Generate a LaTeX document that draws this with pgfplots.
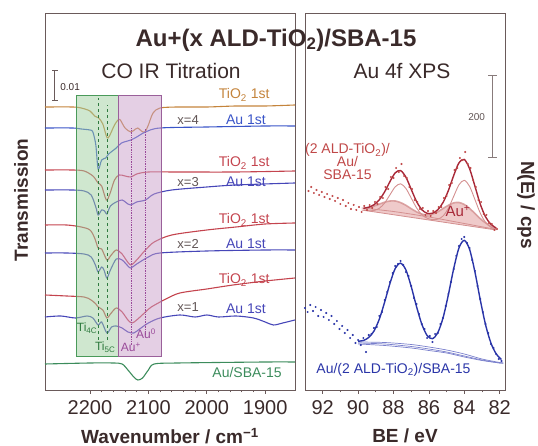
\documentclass[border=0pt]{standalone}
\usepackage{fontspec}
\setmainfont{Liberation Sans}
\usepackage{pgfplots}
\pgfplotsset{compat=1.18}

\definecolor{frame}{HTML}{6A5A5A}
\definecolor{ink}{HTML}{3A2A2A}
\definecolor{tiorange}{HTML}{C4843C}
\definecolor{tired}{HTML}{C4444E}
\definecolor{aublue}{HTML}{3A55C8}
\definecolor{aublueb}{HTML}{4646B8}
\definecolor{sbagreen}{HTML}{3C8C5C}
\definecolor{boxgreen}{HTML}{9FD09F}
\definecolor{boxgreenline}{HTML}{4A9A5A}
\definecolor{boxpurple}{HTML}{C9A0C9}
\definecolor{boxpurpleline}{HTML}{9A609A}
\definecolor{tilabel}{HTML}{2F7A3F}
\definecolor{aulabel}{HTML}{9A4A9A}
\definecolor{xpsred}{HTML}{C04848}
\definecolor{xpsfit}{HTML}{A82838}
\definecolor{xpscomp}{HTML}{D49090}
\definecolor{xpsband}{HTML}{E8B4B4}
\definecolor{xpsblue}{HTML}{2A35A8}
\definecolor{xpsbluebg}{HTML}{7A80CC}

\newcommand\fs[1]{\fontsize{#1}{#1}\selectfont}

\pgfplotsset{
  panel/.style={
    scale only axis, anchor=south west,
    height=377pt, ymin=0, ymax=377, ytick=\empty,
    x dir=reverse,
    axis line style={color=frame, line width=0.9pt},
    tick align=outside, xtick pos=bottom,
    major tick length=4pt, minor tick length=2.5pt,
    every tick/.style={color=frame, line width=0.7pt},
    /pgf/number format/assume math mode=true,
    /pgf/number format/1000 sep={},
    xticklabel style={font=\fs{20}, text=ink, yshift=-3pt},
    clip=false,
  },
}

\begin{document}
\begin{tikzpicture}[x=1pt,y=1pt]
\useasboundingbox (0,0) rectangle (538,446);

% ---------------- IR panel ----------------
\begin{axis}[panel, at={(45pt,56pt)}, width=250pt,
  xmin=1849, xmax=2277, xtick={1900,2000,2100,2200}, minor x tick num=4]

% x=4
\addplot[tiorange, line width=1.1pt, smooth] coordinates {
 (2277,283) (2230,283) (2215,282) (2200,279) (2192,274) (2185,272) (2178,266)
 (2172,254) (2169,252) (2165,256) (2158,265) (2152,270) (2148,270) (2140,262)
 (2130,258) (2122,261) (2118,262) (2112,259) (2106,258) (2100,265) (2092,277)
 (2080,282) (2050,283) (2000,283) (1950,284) (1900,284) (1849,285)};
\addplot[aublue, line width=1.1pt, smooth] coordinates {
 (2277,262) (2230,262) (2215,261) (2200,260) (2195,258) (2190,245) (2186,221)
 (2180,230) (2173,232) (2168,236) (2155,242) (2146,247) (2130,250) (2120,253)
 (2105,258) (2080,262) (2000,263) (1900,264) (1849,264)};
% x=3
\addplot[tired, line width=1.1pt, smooth] coordinates {
 (2277,220) (2230,220) (2210,219) (2195,214) (2186,207) (2180,204) (2172,190)
 (2166,196) (2158,210) (2150,215) (2140,214) (2130,213) (2120,216) (2100,218)
 (2050,218) (1950,218) (1849,219)};
\addplot[aublueb, line width=1.1pt, smooth] coordinates {
 (2277,200) (2230,200) (2210,199) (2198,195) (2190,183) (2186,175) (2180,180)
 (2175,179) (2171,176) (2165,184) (2155,188) (2145,190) (2135,186) (2130,185)
 (2120,188) (2105,190) (2090,196) (2060,200) (2000,203) (1950,205) (1849,207)};
% x=2
\addplot[tired, line width=1.1pt, smooth] coordinates {
 (2277,165) (2240,165) (2215,163) (2200,160) (2192,152) (2186,142) (2180,141)
 (2171,130) (2165,134) (2155,140) (2145,136) (2138,130) (2130,125) (2120,130)
 (2105,140) (2090,148) (2060,155) (2000,160) (1950,163) (1900,166) (1849,167)};
\addplot[aublueb, line width=1.1pt, smooth] coordinates {
 (2277,137) (2240,137) (2210,136) (2198,133) (2190,124) (2186,118) (2180,123)
 (2176,120) (2171,112) (2165,120) (2155,131) (2145,130) (2135,124) (2130,122)
 (2120,126) (2100,133) (2080,137) (2000,139) (1900,140) (1849,140)};
% x=1
\addplot[tired, line width=1.1pt, smooth] coordinates {
 (2277,95) (2240,94) (2210,93) (2198,90) (2190,86) (2186,83) (2178,80) (2171,72)
 (2165,76) (2155,82) (2145,78) (2135,70) (2128,67) (2120,70) (2105,78) (2095,83)
 (2070,91) (2046,97) (2000,101) (1955,105) (1900,109) (1849,112)};
\addplot[aublueb, line width=1.1pt, smooth] coordinates {
 (2277,73) (2250,74) (2225,72) (2205,74) (2195,72) (2186,65) (2180,68) (2171,57)
 (2163,63) (2155,64) (2145,62) (2135,58) (2125,57) (2115,61) (2100,67) (2080,72)
 (2046,75) (2020,73) (2000,75) (1980,73) (1950,74) (1920,72) (1900,68) (1886,65)
 (1870,67) (1849,70)};
% Au/SBA-15
\addplot[sbagreen, line width=1.1pt, smooth] coordinates {
 (2277,26) (2200,27) (2160,27) (2145,26) (2135,20) (2125,13) (2118,10) (2110,12)
 (2100,20) (2090,26) (2050,27) (1900,28) (1849,28)};

% shaded windows
\fill[boxgreen, opacity=0.5] (axis cs:2224,34) rectangle (axis cs:2152,295);
\draw[boxgreenline, line width=0.8pt] (axis cs:2224,34) rectangle (axis cs:2152,295);
\fill[boxpurple, opacity=0.5] (axis cs:2152,34) rectangle (axis cs:2078,295);
\draw[boxpurpleline, line width=0.8pt] (axis cs:2152,34) rectangle (axis cs:2078,295);
\draw[tilabel, dashed, line width=0.6pt] (axis cs:2186,50) -- (axis cs:2186,292);
\draw[tilabel, dashed, line width=0.6pt] (axis cs:2171,50) -- (axis cs:2171,285);
\draw[aulabel, densely dotted, line width=0.7pt] (axis cs:2130,45) -- (axis cs:2130,262);
\draw[aulabel, densely dotted, line width=0.7pt] (axis cs:2106,55) -- (axis cs:2106,262);

\node[tilabel, font=\fs{12}] at (axis cs:2205,62) {Ti\textsubscript{4C}};
\node[tilabel, font=\fs{12}] at (axis cs:2174,43) {Ti\textsubscript{5C}};
\node[aulabel, font=\fs{12}] at (axis cs:2130,43) {Au\textsuperscript{+}};
\node[aulabel, font=\fs{12}] at (axis cs:2104,56) {Au\textsuperscript{0}};

% scale bar
\draw[frame, line width=0.9pt] (axis cs:2260,290) -- (axis cs:2260,320)
  (axis cs:2265,290) -- (axis cs:2255,290) (axis cs:2265,320) -- (axis cs:2255,320);
\node[ink, font=\fs{10}] at (axis cs:2234,303) {0.01};

% curve labels
\node[tiorange, font=\fs{14}] at (axis cs:1936,295) {TiO\textsubscript{2} 1st};
\node[aublue, font=\fs{14}] at (axis cs:1933,270) {Au 1st};
\node[ink!80, font=\fs{13}] at (axis cs:2032,270) {x=4};
\node[tired, font=\fs{14}] at (axis cs:1936,227) {TiO\textsubscript{2} 1st};
\node[aublueb, font=\fs{14}] at (axis cs:1933,208) {Au 1st};
\node[ink!80, font=\fs{13}] at (axis cs:2032,208) {x=3};
\node[tired, font=\fs{14}] at (axis cs:1936,170) {TiO\textsubscript{2} 1st};
\node[aublueb, font=\fs{14}] at (axis cs:1933,146) {Au 1st};
\node[ink!80, font=\fs{13}] at (axis cs:2032,146) {x=2};
\node[tired, font=\fs{14}] at (axis cs:1936,110) {TiO\textsubscript{2} 1st};
\node[aublueb, font=\fs{14}] at (axis cs:1933,81) {Au 1st};
\node[ink!80, font=\fs{13}] at (axis cs:2032,83) {x=1};
\node[sbagreen, font=\fs{14}] at (axis cs:1931,17) {Au/SBA-15};
\end{axis}

% ---------------- XPS panel ----------------
\begin{axis}[panel, at={(305pt,56pt)}, width=200pt,
  xmin=81.7, xmax=93, xtick={82,84,...,92}, minor x tick num=1]

% red: Au+ band (between background and Au+ component)
\addplot[draw=none, fill=xpsband, fill opacity=0.7] coordinates {
 (89.7,181.6) (89.4,182.4) (89.1,183.9) (88.8,185.9) (88.5,187.8) (88.2,189.0)
 (87.9,189.0) (87.6,187.4) (87.3,184.7) (87.0,181.3) (86.7,178.2) (86.4,175.9)
 (86.1,175.2) (85.8,175.9) (85.5,178.1) (85.2,181.5) (84.9,184.7) (84.6,187.1)
 (84.3,187.5) (84.0,185.5) (83.7,181.5) (83.4,176.6) (83.1,171.4) (82.8,167.1)
 (82.5,163.8) (82.2,161.5) (82.2,160.0) (89.7,179.7)};
\addplot[xpscomp, line width=1.6pt, smooth, opacity=0.8] coordinates {
 (89.7,181.6) (89.4,182.4) (89.1,183.9) (88.8,185.9) (88.5,187.8) (88.2,189.0)
 (87.9,189.0) (87.6,187.4) (87.3,184.7) (87.0,181.3) (86.7,178.2) (86.4,175.9)
 (86.1,175.2) (85.8,175.9) (85.5,178.1) (85.2,181.5) (84.9,184.7) (84.6,187.1)
 (84.3,187.5) (84.0,185.5) (83.7,181.5) (83.4,176.6) (83.1,171.4) (82.8,167.1)
 (82.5,163.8) (82.2,161.5)};
% red backgrounds
\addplot[xpscomp, line width=0.8pt] coordinates {(89.8,180) (82.2,160)};
\addplot[xpscomp, line width=0.8pt, smooth] coordinates {
 (89.8,182) (88,178.5) (86,173) (84,166.5) (82.2,160.5)};
% red Au0 components
\addplot[xpscomp, line width=0.9pt, smooth] coordinates {
 (89.7,179.8) (89.4,179.3) (89.1,179.5) (88.8,181.7) (88.5,187.0) (88.2,195.2)
 (87.9,203.2) (87.6,206.2) (87.3,201.6) (87.0,192.0) (86.7,182.2) (86.4,175.3)
 (86.1,171.8) (85.8,170.4) (85.5,170.8) (85.2,174.0) (84.9,181.7) (84.6,193.6)
 (84.3,205.2) (84.0,209.7) (83.7,203.6) (83.4,190.5) (83.1,177.0) (82.8,167.7)
 (82.5,162.8) (82.2,160.5)};
% red data
\addplot[only marks, mark=*, mark size=0.8pt, xpsred] coordinates {
 (92.8,199) (92.65,203) (92.5,197) (92.35,200) (92.2,195) (92.05,198) (91.9,193)
 (91.75,196) (91.6,191) (91.45,194) (91.3,189) (91.15,192) (91.0,186) (90.85,190)
 (90.7,184) (90.55,187) (90.4,181) (90.25,185) (90.1,180) (89.95,183) (89.8,178)
 (89.65,184) (89.5,180) (89.35,185) (89.2,182) (89.05,188) (88.9,186) (88.75,193)
 (88.6,192) (88.45,203) (88.3,201) (88.15,213) (88.0,212) (87.85,222) (87.7,218)
 (87.55,226) (87.4,214) (87.25,212) (87.1,203) (86.95,201) (86.8,190) (86.65,188)
 (86.5,181) (86.35,182) (86.2,175) (86.05,179) (85.9,174) (85.75,179) (85.6,177)
 (85.45,183) (85.3,183) (85.15,192) (85.0,194) (84.85,205) (84.7,207) (84.55,220)
 (84.4,222) (84.25,232) (84.1,230) (83.95,238) (83.8,226) (83.65,222) (83.5,210)
 (83.35,203) (83.2,190) (83.05,188) (82.9,176) (82.75,175) (82.6,167) (82.45,166)
 (82.3,160) (82.15,161)};
% red fit
\addplot[xpsfit, line width=1.4pt, smooth] coordinates {
 (89.7,181.7) (89.4,182.8) (89.1,185.3) (88.8,190.2) (88.5,198.2) (88.2,208.4)
 (87.9,217.2) (87.6,219.4) (87.3,212.9) (87.0,200.7) (86.7,188.6) (86.4,180.3)
 (86.1,176.7) (85.8,176.8) (85.5,180.2) (85.2,187.5) (84.9,199.4) (84.6,214.4)
 (84.3,227.2) (84.0,230.5) (83.7,221.2) (83.4,203.9) (83.1,186.0) (82.8,173.2)
 (82.5,165.8) (82.2,162.0)};

% blue backgrounds
\addplot[xpsbluebg, line width=0.7pt, smooth] coordinates {
 (90,48) (88.5,47.5) (87,45.5) (86,43) (85,40) (84,36) (83,31) (82,27.5) (81.8,27)};
\addplot[xpsbluebg, line width=0.7pt, smooth] coordinates {
 (90,47) (88.5,46) (87,43.5) (86,41) (85,38) (84,34) (83,30) (82,27) (81.8,27)};
\addplot[xpsbluebg, line width=0.7pt, smooth] coordinates {
 (90,46) (88.5,44.5) (87,42) (86,39.5) (85,37) (84,33) (83,29.5) (82,27) (81.8,27)};
% blue data
\addplot[only marks, mark=*, mark size=0.8pt, xpsblue] coordinates {
 (93.0,82) (92.85,78) (92.7,85) (92.55,79) (92.4,83) (92.25,74) (92.1,80)
 (91.95,73) (91.8,77) (91.65,70) (91.5,74) (91.35,66) (91.2,69) (91.05,61)
 (90.9,64) (90.75,57) (90.6,60) (90.45,52) (90.3,55) (90.15,47) (90.0,50)
 (89.85,45) (89.7,52) (89.55,38) (89.4,55) (89.25,56) (89.1,62) (88.95,63)
 (88.8,74) (88.65,78) (88.5,90) (88.35,98) (88.2,108) (88.05,117) (87.9,124)
 (87.75,126) (87.6,129) (87.45,125) (87.3,118) (87.15,114) (87.0,104) (86.85,92)
 (86.7,86) (86.55,76) (86.4,66) (86.25,61) (86.1,52) (85.95,54) (85.8,48)
 (85.65,56) (85.5,57) (85.35,66) (85.2,72) (85.05,84) (84.9,96) (84.75,108)
 (84.6,121) (84.45,134) (84.3,144) (84.15,151) (84.0,153) (83.85,147) (83.7,142)
 (83.55,130) (83.4,119) (83.25,104) (83.1,91) (82.95,78) (82.8,66) (82.65,57)
 (82.5,46) (82.35,42) (82.2,36) (82.05,31) (81.9,29)};
% blue fit
\addplot[xpsblue, line width=1.4pt, smooth] coordinates {
 (90.0,48.8) (89.7,49.5) (89.4,52.5) (89.1,59.0) (88.8,70.9) (88.5,87.9)
 (88.2,106.6) (87.9,121.6) (87.6,126.8) (87.3,120.1) (87.0,103.5) (86.7,83.5)
 (86.4,65.8) (86.1,54.5) (85.8,51.3) (85.5,57.2) (85.2,72.2) (84.9,95.2)
 (84.6,121.2) (84.3,142.1) (84.0,149.6) (83.7,140.6) (83.4,118.1) (83.1,90.4)
 (82.8,65.4) (82.5,47.2) (82.2,36.2) (81.9,30.5)};

% scale bar
\draw[frame!80, line width=1pt] (axis cs:82.4,232) -- (axis cs:82.4,314)
  (axis cs:82.65,232) -- (axis cs:82.15,232) (axis cs:82.65,314) -- (axis cs:82.15,314);
\node[ink!80, font=\fs{10}] at (axis cs:83.3,273) {200};

\node[xpsred, font=\fs{14}, align=center, inner sep=0pt] at (axis cs:90.6,228)
  {(2 ALD-TiO\textsubscript{2})/\\[-1pt]Au/\\[-1pt]SBA-15};
\node[xpsfit, font=\fs{15}] at (axis cs:84.35,179) {Au\textsuperscript{+}};
\node[xpsblue, font=\fs{14}] at (axis cs:88.0,20) {Au/(2 ALD-TiO\textsubscript{2})/SBA-15};
\end{axis}

% ---------------- titles and labels ----------------
\node[ink, font=\fs{24}\bfseries] at (276,406) {Au+(x ALD-TiO\textsubscript{2})/SBA-15};
\node[ink, font=\fs{21}] at (171,375) {CO IR Titration};
\node[ink, font=\fs{21}] at (402,375) {Au 4f XPS};
\node[ink, font=\fs{19}\bfseries] at (170,10) {Wavenumber / cm\textsuperscript{−1}};
\node[ink, font=\fs{19}\bfseries] at (405,10) {BE / eV};
\node[ink, font=\fs{19}\bfseries, rotate=90] at (21,246) {Transmission};
\node[ink, font=\fs{19}\bfseries, rotate=-90] at (526,241) {N(E) / cps};
\end{tikzpicture}
\end{document}
